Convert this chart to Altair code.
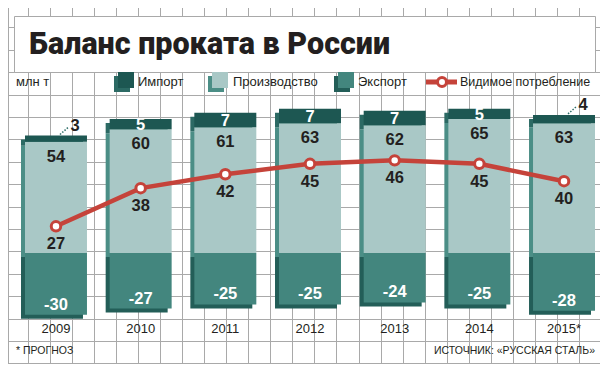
import altair as alt
import pandas as pd

# ---- data ----
years = ["2009", "2010", "2011", "2012", "2013", "2014", "2015*"]
imports = [3, 5, 7, 7, 7, 5, 4]
production = [54, 60, 61, 63, 62, 65, 63]
exports = [-30, -27, -25, -25, -24, -25, -28]
consumption = [27, 38, 42, 45, 46, 45, 40]

title_text = "Баланс проката в России"
unit_text = "млн т"
legend_labels = ["Импорт", "Производство", "Экспорт", "Видимое потребление"]
note_text = "* ПРОГНОЗ"
source_text = "ИСТОЧНИК: «РУССКАЯ СТАЛЬ»"

# ---- styles ----
IMP = "#1d5752"
PROD = "#a9c8c6"
EXP = "#43867e"
IMP_SH = "#2c6a64"
PROD_SH = "#4b8e86"
EXP_SH = "#235e58"
RED = "#c5433a"
GRID = "#a9a9a9"
INK = "#231f20"
NUM_FONT = "Liberation Sans"
LBL_FONT = "Liberation Sans"
W, H = 592, 356

df = pd.DataFrame({"year": years, "imp": imports, "prod": production,
                   "exp": exports, "cons": consumption})
df["top"] = df["prod"] + df["imp"]
df["zero"] = 0
df["imp_mid"] = df["prod"] + df["imp"] / 2
df["exp_s"] = [str(v) for v in exports]
big = df[df["imp"] > 4]
small = df[df["imp"] <= 4]

XS = alt.Scale(type="band", domain=years, range=[5.65, 598.35],
               paddingInner=0.268, paddingOuter=0.134)
YB = alt.Scale(domain=[-53.9, 118.9], nice=False, zero=False)
YL = alt.Scale(domain=[-12.68, 89.91], nice=False, zero=False)


def xb():
    return alt.X("year:N", scale=XS, axis=None, sort=years)


def xc():
    return alt.X("year:N", scale=XS, axis=None, sort=years, bandPosition=0.5)


one = pd.DataFrame({"k": [0]})


def txt(s, x, y, size=13, font=LBL_FONT, weight="normal", align="left", color=INK):
    return alt.Chart(one).mark_text(
        text=s, fontSize=size, font=font, fontWeight=weight, align=align,
        baseline="middle", color=color
    ).encode(x=alt.value(x), y=alt.value(y))


def rect(x1, x2, y1, y2, fill, stroke=None):
    kw = {"stroke": stroke, "strokeWidth": 1} if stroke else {}
    return alt.Chart(one).mark_rect(fill=fill, **kw).encode(
        x=alt.value(x1), x2=alt.value(x2), y=alt.value(y1), y2=alt.value(y2))


# ---- background grid (decoration) ----
vx = [0.5] + [int(-1.8 + 22.05 * k) + 0.5 for k in range(1, 27)]
hy = [int(-2.5 + 22.4 * k) + 0.5 for k in range(1, 16)] + [355.5]
grid_v = alt.Chart(pd.DataFrame({"gx": vx})).mark_rule(color=GRID, strokeWidth=1).encode(
    x=alt.X("gx:Q", scale=None, axis=None))
grid_h = alt.Chart(pd.DataFrame({"gy": hy})).mark_rule(color=GRID, strokeWidth=1).encode(
    y=alt.Y("gy:Q", scale=None, axis=None))

title_box = rect(6.5, 587.5, 8.5, 64.5, "white", GRID)
title = txt(title_text, 21, 37, size=30.5, font="Roboto", weight=900)

# ---- legend ----
ly = 74
legend = [
    txt(unit_text, 8, ly),
    rect(106, 122, 68, 84, IMP_SH), rect(110, 126, 64, 80, IMP),
    txt(legend_labels[0], 130, ly),
    rect(200, 216, 68, 84, PROD_SH), rect(204, 220, 64, 80, PROD),
    txt(legend_labels[1], 225, ly),
    rect(326, 342, 68, 84, EXP_SH), rect(330, 346, 64, 80, EXP),
    txt(legend_labels[2], 350, ly),
    alt.Chart(one).mark_rule(color=RED, strokeWidth=5).encode(
        x=alt.value(418), x2=alt.value(449), y=alt.value(ly)),
    alt.Chart(one).mark_point(filled=True, fill="white", stroke=RED, strokeWidth=3,
                              size=80, opacity=1).encode(x=alt.value(434), y=alt.value(ly)),
    txt(legend_labels[3], 452, ly, size=12.5),
]


# ---- bars ----
def seg(y, y2, color, shadow=False):
    kw = dict(xOffset=-4, x2Offset=-4, yOffset=4, y2Offset=4) if shadow else {}
    return alt.Chart(df).mark_bar(color=color, **kw).encode(
        x=xb(), y=alt.Y(f"{y}:Q", scale=YB, axis=None), y2=alt.Y2(f"{y2}:Q"))


bars = [
    seg("zero", "exp", EXP_SH, True), seg("zero", "prod", PROD_SH, True),
    seg("prod", "top", IMP_SH, True),
    seg("zero", "exp", EXP), seg("zero", "prod", PROD), seg("prod", "top", IMP),
]

prod_lbl = alt.Chart(df).mark_text(fontSize=16.5, font=NUM_FONT, fontWeight="bold",
                                   color=INK, baseline="middle", dy=15).encode(
    x=xc(), y=alt.Y("prod:Q", scale=YB, axis=None), text="prod:Q")
imp_lbl = alt.Chart(big).mark_text(fontSize=16.5, font=NUM_FONT, fontWeight="bold",
                                   color="white", baseline="middle", dy=1).encode(
    x=xc(), y=alt.Y("imp_mid:Q", scale=YB, axis=None), text="imp:Q")
imp_small = alt.Chart(small).mark_text(fontSize=16.5, font=NUM_FONT, fontWeight="bold",
                                       color=INK, baseline="middle", dx=19, dy=-10).encode(
    x=xc(), y=alt.Y("top:Q", scale=YB, axis=None), text="imp:Q")
leader = alt.Chart(small).mark_rule(color="#2e6e68", strokeWidth=1.5, strokeDash=[1.5, 1.5],
                                    xOffset=4, x2Offset=12, yOffset=-1, y2Offset=-8).encode(
    x=xc(), x2=alt.X2("year:N"), y=alt.Y("top:Q", scale=YB, axis=None), y2=alt.Y2("top:Q"))
exp_lbl = alt.Chart(df).mark_text(fontSize=16.5, font=NUM_FONT, fontWeight="bold",
                                  color="white", baseline="middle", dy=-10).encode(
    x=xc(), y=alt.Y("exp:Q", scale=YB, axis=None), text="exp_s:N")

# ---- consumption line ----
cons_line = alt.Chart(df).mark_line(color=RED, strokeWidth=4.5).encode(
    x=xc(), y=alt.Y("cons:Q", scale=YL, axis=None))
cons_pts = alt.Chart(df).mark_point(filled=True, fill="white", stroke=RED, strokeWidth=3,
                                    size=90, opacity=1).encode(
    x=xc(), y=alt.Y("cons:Q", scale=YL, axis=None))
cons_lbl = alt.Chart(df).mark_text(fontSize=16.5, font=NUM_FONT, fontWeight="bold",
                                   color=INK, baseline="middle", dy=18).encode(
    x=xc(), y=alt.Y("cons:Q", scale=YL, axis=None), text="cons:Q")

# ---- year labels and footer ----
year_lbl = alt.Chart(df).mark_text(fontSize=13, font="Liberation Sans", color=INK,
                                   baseline="middle").encode(
    x=xc(), y=alt.value(321), text="year:N")
note = txt(note_text, 8, 343, size=10.5)
source = txt(source_text, 587, 343, size=10.5, align="right")

chart = alt.layer(
    grid_v, grid_h, title_box, title, *legend, *bars,
    prod_lbl, imp_lbl, imp_small, leader, exp_lbl,
    cons_line, cons_pts, cons_lbl, year_lbl, note, source,
).resolve_scale(x="independent", y="independent").properties(
    width=W, height=H, padding=0, autosize="none"
).configure_view(strokeWidth=0)

chart.save("out.html", embed_options={"renderer": "svg", "actions": False})
